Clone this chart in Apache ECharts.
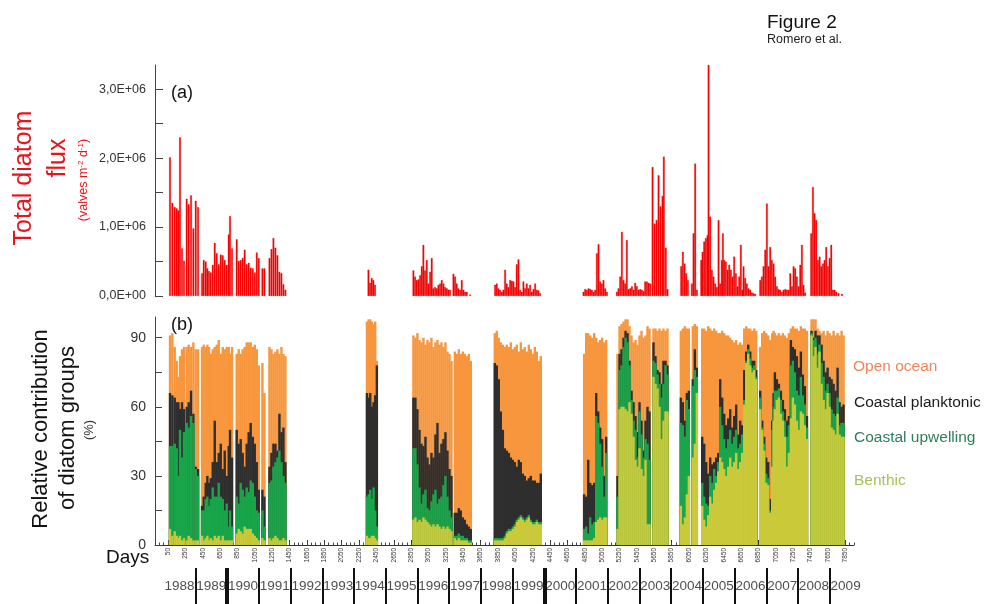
<!DOCTYPE html>
<html><head><meta charset="utf-8">
<script src="https://cdn.jsdelivr.net/npm/echarts@6/dist/echarts.min.js"></script>
<style>html,body{margin:0;padding:0;background:#fff;}#c{width:985px;height:604px;}</style>
</head><body><div id="c"></div>
<script>
// ---- (a) Total diatom flux, days since 1 Jan 1988 and flux in 10^6 valves m-2 d-1
const fluxDays = [73,100,127,150,169,188,211,234,265,288,315,342,369,396,442,461,484,503,522,542,565,588,611,634,657,680,703,726,749,764,787,841,864,887,910,933,956,979,1002,1026,1049,1072,1095,1137,1160,1218,1241,1264,1287,1310,1333,1356,1379,1402,
2358,2377,2396,2415,2434,
2876,2895,2914,2934,2953,2972,2991,3010,3030,3049,3068,3087,3106,3126,3145,3164,3183,3202,3222,3241,3260,3279,3298,3337,3356,3375,3394,3414,3433,3452,3471,3490,3529,
3817,3836,3855,3874,3894,3913,3932,3951,3970,3990,4009,4028,4047,4066,4086,4105,4124,4143,4162,4182,4201,4220,4239,4258,4278,4297,4316,4335,
4835,4854,4873,4893,4912,4931,4950,4969,4989,5008,5027,5046,5065,5085,5104,
5219,5238,5257,5277,5296,5315,5334,5353,5373,5392,5411,5430,5449,5469,5488,5507,5526,5545,5565,5584,5603,
5630,5653,5676,5699,5722,5745,5760,5783,5803,
5960,5979,5999,6018,6037,6083,6102,6121,6141,
6191,6206,6225,6244,6263,6275,6294,6313,6332,6352,6371,6390,6409,6428,6440,6455,6474,6494,6513,6532,6551,6570,6590,6609,6628,6647,6666,6678,6697,6716,6736,6755,6774,6793,6812,
6870,6889,6908,6928,6947,6966,6985,7004,7024,7043,7062,7081,7100,7120,7139,7158,7177,7196,7216,7235,7254,7273,7292,7312,7331,7350,7369,7388,
7457,7477,7496,7515,7534,7554,7573,7592,7611,7630,7650,7669,7688,7707,7726,7746,7772,7811];
const fluxMillions = [2.01,1.35,1.29,1.27,1.24,2.30,0.69,0.51,1.41,1.33,1.46,0.98,1.38,1.29,0.33,0.52,0.50,0.40,0.36,0.34,0.45,0.77,0.62,0.46,0.60,0.59,0.52,0.45,0.89,1.16,0.69,0.82,0.51,0.52,0.55,0.67,0.46,0.48,0.41,0.40,0.34,0.63,0.55,0.40,0.40,0.55,0.68,0.84,0.70,0.59,0.35,0.33,0.17,0.09,
0.38,0.19,0.26,0.23,0.16,
0.37,0.28,0.23,0.24,0.30,0.43,0.74,0.37,0.52,0.18,0.35,0.55,0.11,0.13,0.11,0.16,0.18,0.23,0.18,0.13,0.11,0.09,0.09,0.32,0.28,0.18,0.11,0.09,0.23,0.09,0.06,0.06,0.02,
0.16,0.18,0.11,0.09,0.06,0.09,0.38,0.18,0.13,0.23,0.22,0.21,0.13,0.46,0.53,0.09,0.06,0.21,0.11,0.18,0.11,0.16,0.06,0.10,0.18,0.09,0.08,0.04,
0.06,0.10,0.09,0.11,0.10,0.09,0.06,0.09,0.62,0.75,0.21,0.18,0.23,0.11,0.06,
0.06,0.11,0.28,0.93,0.23,0.18,0.81,0.10,0.11,0.14,0.09,0.19,0.14,0.09,0.10,0.09,0.07,0.21,0.21,0.19,0.18,
1.87,1.05,1.10,1.75,1.30,1.45,2.02,0.70,0.10,
0.43,0.64,0.47,0.33,0.23,0.18,0.91,1.92,0.09,
0.52,0.64,0.79,0.84,0.88,3.35,1.15,0.38,0.28,0.18,0.13,1.10,0.18,0.52,0.91,0.52,0.50,0.38,0.45,0.38,0.28,0.57,0.33,0.14,0.28,0.74,0.09,0.43,0.26,0.18,0.11,0.09,0.05,0.04,0.03,
0.23,0.28,0.43,0.67,1.34,0.43,0.71,0.52,0.47,0.28,0.14,0.10,0.09,0.06,0.09,0.10,0.09,0.09,0.33,0.14,0.43,0.40,0.28,0.14,0.45,0.74,0.16,0.05,
0.91,1.58,1.20,1.10,0.52,0.57,0.43,0.47,0.52,0.71,0.43,0.55,0.74,0.09,0.09,0.06,0.04,0.03];

// ---- (b) Relative contribution (%) of diatom groups
const compDays = [73,100,127,150,169,188,211,234,265,288,315,342,369,396,442,461,484,503,522,542,565,588,611,634,657,680,703,726,749,764,787,841,864,887,910,933,956,979,1002,1026,1049,1072,1095,1137,1160,1218,1241,1264,1287,1310,1333,1356,1379,1402,
2341,2360,2379,2398,2417,2436,2455,
2876,2899,2922,2946,2969,2992,3015,3038,3061,3084,3107,3130,3153,3176,3199,3222,3245,3268,3291,3314,3353,3376,3399,3422,3445,3468,3491,3514,3537,
3813,3836,3859,3882,3906,3929,3952,3975,3998,4021,4044,4067,4090,4113,4136,4159,4182,4205,4228,4251,4274,4297,4320,4343,
4842,4866,4889,4912,4935,4958,4981,5004,5027,5050,5073,5096,
5226,5250,5273,5296,5319,5342,5365,5388,5411,5434,5457,5480,5503,5526,5549,5572,5595,
5641,5664,5687,5710,5733,5756,5779,5802,
5956,5979,6002,6025,6048,6094,6117,6140,
6202,6225,6248,6271,6294,6317,6340,6363,6386,6409,6432,6455,6478,6501,6524,6547,6570,6593,6616,6639,6662,
6686,6709,6732,6755,6778,6801,6824,
6870,6893,6916,6939,6962,6985,7008,7024,
7039,7062,7085,7108,7131,7154,7177,7200,7223,7246,7269,7292,7315,7338,7361,7384,7408,
7461,7484,7507,7530,7553,7577,7600,7623,7646,7669,7692,7715,7738,7761,7784,7807,7830];
const benthic = [7,4,6,4,3,4,2,3,2,4,3,2,2,2,4,2,3,4,2,3,2,4,3,4,2,4,2,2,2,2,2,5,7,6,5,8,7,7,7,5,4,3,2,3,2,3,2,3,4,3,2,2,3,2,
4,3,3,4,4,3,2,
11,12,10,11,10,12,11,10,9,8,9,8,9,8,7,8,7,8,7,6,3,2,3,2,2,2,2,1,1,
2,2,2,2,2,3,5,6,6,7,8,10,11,12,11,10,11,12,10,9,9,10,9,9,
2,2,2,2,2,3,10,11,12,11,12,12,
7,59,60,60,59,58,62,57,47,37,34,42,33,30,37,9,9,
73,70,68,60,46,54,58,58,
17,9,12,22,30,38,44,66,
17,11,8,13,21,18,24,27,32,38,36,33,30,34,38,34,36,40,33,36,40,
61,79,83,78,75,76,72,
59,50,41,27,26,14,34,54,
59,63,64,57,54,47,34,40,55,64,61,54,50,58,57,52,46,
91,82,86,77,84,70,63,59,66,60,51,50,48,57,48,47,47];
const upwelling = [36,39,38,38,27,46,36,46,51,47,53,51,31,28,11,13,17,17,15,17,23,17,18,23,19,16,13,16,6,13,6,16,11,21,19,13,18,16,21,22,17,12,12,12,6,24,26,31,32,35,39,34,27,25,
17,19,21,16,21,12,6,
31,30,25,14,8,10,13,6,6,11,13,16,9,12,14,18,23,13,8,6,1,2,2,2,2,1,1,1,1,
1,1,1,1,1,1,1,1,1,1,1,1,1,1,1,1,1,1,1,1,1,1,1,1,
5,6,3,10,7,7,46,42,32,23,9,28,
14,17,18,26,31,30,16,6,7,13,4,16,15,8,9,35,28,
7,9,6,10,18,16,20,16,
36,43,35,41,29,31,32,7,
10,10,10,4,9,9,9,3,4,22,16,13,12,12,12,10,11,10,9,8,8,
2,1,2,3,2,2,1,
5,1,3,4,3,1,16,6,
8,4,4,6,4,7,13,12,23,16,14,13,15,15,8,9,5,
1,7,4,6,3,9,10,8,4,6,8,7,8,7,4,6,6];
const planktonic = [23,22,20,20,32,9,24,10,7,11,11,4,1,3,2,6,7,9,10,9,11,33,15,13,23,13,26,12,35,35,30,29,26,19,16,13,19,26,25,20,23,21,10,9,13,7,12,10,8,3,16,13,21,9,
45,42,42,40,37,50,70,
22,22,24,25,26,21,23,22,20,21,16,24,35,20,23,20,19,20,18,18,10,10,11,11,8,8,6,6,5,
76,75,69,55,47,38,35,33,31,29,27,23,25,23,19,19,16,16,19,18,18,16,17,21,
15,13,32,15,17,17,10,5,7,12,9,7,
9,7,7,4,3,4,2,4,8,6,11,4,6,3,8,16,21,
8,3,2,5,6,10,2,4,
11,10,7,3,8,3,9,4,
20,23,18,14,8,8,3,8,4,12,12,11,10,9,9,7,9,11,6,10,4,
13,4,2,3,3,2,3,
3,3,3,7,7,5,4,6,
8,5,2,4,5,5,7,4,11,6,10,15,12,11,9,8,5,
1,1,3,8,4,8,7,8,7,7,13,13,11,13,10,7,8];
const openOcean = [25,27,22,18,11,23,23,27,26,25,19,31,51,52,69,66,59,57,59,54,49,32,51,49,39,53,44,56,43,33,48,33,41,37,45,52,44,39,35,39,43,49,54,55,45,52,45,39,40,44,26,37,32,46,
31,34,32,37,34,32,2,
27,26,33,39,44,47,40,51,53,50,48,40,36,47,44,40,39,43,50,50,70,69,69,68,72,72,73,75,73,
13,15,18,30,37,44,46,46,50,48,50,53,47,52,54,56,56,58,55,55,58,57,53,51,
61,71,55,64,64,65,24,30,38,44,58,42,
53,12,11,7,5,6,15,24,26,33,38,29,39,49,37,35,36,
6,12,17,19,23,14,13,16,
29,32,41,28,27,23,11,18,
47,50,57,64,56,58,58,55,52,20,29,35,39,36,31,38,32,28,39,34,35,
18,11,7,10,13,14,17,
19,38,46,54,55,69,38,27,
17,19,22,24,29,32,36,36,5,9,9,12,16,11,20,25,37,
5,8,5,3,2,5,13,16,16,19,19,23,24,15,29,33,30];

// ---- axes
const dayTickLabels = [50,250,450,650,850,1050,1250,1450,1650,1850,2050,2250,2450,2650,2850,3050,3250,3450,3650,3850,4050,4250,4450,4650,4850,5050,5250,5450,5650,5850,6050,6250,6450,6650,6850,7050,7250,7450,7650,7850];
const years = ['1988','1989','1990','1991','1992','1993','1994','1995','1996','1997','1998','1999','2000','2001','2002','2003','2004','2005','2006','2007','2008','2009'];
const yearStartDays = [0,366,731,1096,1461,1827,2192,2557,2922,3288,3653,4018,4383,4749,5114,5479,5844,6210,6575,6940,7305,7671,8036];
const thickYearBoundaries = [731,4383];
const fluxTicks = [0,500000,1000000,1500000,2000000,2500000,3000000];
const fluxLabelValues = [0,1000000,2000000,3000000];
const pctTicks = [0,15,30,45,60,75,90];
const pctLabelValues = [0,30,60,90];

const C = {orange:'#F7963C', dark:'#2E2E2E', green:'#19A64A', benthic:'#C9C93A', red:'#FF0000'};
const FONT = '"Liberation Sans", Arial, sans-serif';
const XMIN = -100, XMAX = 7950;

const chart = echarts.init(document.getElementById('c'), null, {renderer:'canvas'});

const fluxData = fluxDays.map((d,i)=>[d, fluxMillions[i]*1e6]);
const cum = compDays.map((d,i)=>{
  const b = benthic[i], u = b + upwelling[i], p = u + planktonic[i], o = p + openOcean[i];
  return {d, b, u, p, o};
});
const compSeries = (name, key, color) => ({
  name, type:'bar', xAxisIndex:1, yAxisIndex:1, barWidth:2.4, barGap:'-100%',
  itemStyle:{color}, silent:true,
  data: cum.map(r=>[r.d, r[key]])
});

const fmtFlux = v => v === 0 ? '0,0E+00' : (v/1e6).toFixed(1).replace('.', ',') + 'E+06';

const graphicText = (text, x, y, font, fill) => ({
  type:'text', x, y, silent:true,
  style:{text, font, fill, align:'left', verticalAlign:'middle'}
});
const vText = (text, x, y, font, fill, rich) => ({
  type:'text', x, y, rotation:Math.PI/2, silent:true,
  style:{text, font, fill, align:'center', verticalAlign:'middle', rich}
});

const option = {
  animation:false,
  backgroundColor:'#fff',
  grid:[
    {left:155, right:131, top:65, height:231},
    {left:155, right:131, top:317, height:228},
    {left:155, right:131, top:568, height:36}
  ],
  xAxis:[
    {gridIndex:0, type:'value', min:XMIN, max:XMAX, show:false},
    {gridIndex:1, type:'value', position:'bottom', min:XMIN, max:XMAX,
      axisLine:{onZero:false, lineStyle:{color:'#333', width:1}},
      axisTick:{inside:true, length:5, customValues:dayTickLabels, lineStyle:{color:'#333'}},
      axisLabel:{customValues:dayTickLabels, formatter:v=>String(v), rotate:90, fontSize:6.5, color:'#333', margin:3, fontFamily:FONT},
      splitLine:{show:false}},
    {gridIndex:1, type:'value', position:'bottom', min:XMIN, max:XMAX, interval:50,
      axisLine:{show:false, onZero:false}, axisTick:{inside:true, length:2.5, lineStyle:{color:'#444'}},
      axisLabel:{show:false}, splitLine:{show:false}},
    {gridIndex:2, type:'value', min:XMIN, max:XMAX, show:false}
  ],
  yAxis:[
    {gridIndex:0, type:'value', min:0, max:3350000,
      axisLine:{show:true, onZero:false, lineStyle:{color:'#444'}},
      axisTick:{show:true, inside:true, length:8, customValues:fluxTicks, lineStyle:{color:'#444'}},
      axisLabel:{customValues:fluxLabelValues, formatter:fmtFlux, fontSize:12.5, color:'#333', margin:9, fontFamily:FONT},
      splitLine:{show:false}},
    {gridIndex:1, type:'value', min:0, max:99,
      axisLine:{show:true, onZero:false, lineStyle:{color:'#444'}},
      axisTick:{show:true, inside:true, length:7, customValues:pctTicks, lineStyle:{color:'#444'}},
      axisLabel:{customValues:pctLabelValues, fontSize:14, color:'#333', margin:9, fontFamily:FONT},
      splitLine:{show:false}},
    {gridIndex:2, type:'value', min:0, max:1, show:false}
  ],
  series:[
    {name:'Total diatom flux', type:'bar', xAxisIndex:0, yAxisIndex:0, barWidth:1.7, silent:true,
      itemStyle:{color:C.red, borderColor:'#D00000', borderWidth:0.3}, data:fluxData},
    compSeries('Open ocean','o',C.orange),
    compSeries('Coastal planktonic','p',C.dark),
    compSeries('Coastal upwelling','u',C.green),
    compSeries('Benthic','b',C.benthic),
    {name:'years', type:'scatter', xAxisIndex:3, yAxisIndex:2, symbolSize:1, silent:true,
      itemStyle:{color:'rgba(0,0,0,0)'},
      label:{show:true, position:'inside', formatter:'{b}', fontSize:13.5, color:'#222', fontFamily:FONT},
      data: years.map((y,i)=>({name:y, value:[(yearStartDays[i]+yearStartDays[i+1])/2, 0.5]})),
      markLine:{silent:true, symbol:'none', label:{show:false}, animation:false,
        data: yearStartDays.slice(1, years.length).map(d=>({xAxis:d,
          lineStyle:{color:'#111', type:'solid', width: thickYearBoundaries.includes(d) ? 4 : 2}}))}
    }
  ],
  graphic:[
    graphicText('Figure 2', 767, 23, '19px '+FONT, '#111'),
    graphicText('Romero et al.', 767, 39.5, '12.5px '+FONT, '#222'),
    graphicText('(a)', 171, 93, '18px '+FONT, '#111'),
    graphicText('(b)', 171, 325, '18px '+FONT, '#111'),
    vText('Total diatom', 24, 178, '25px '+FONT, '#E8141C'),
    vText('flux', 58, 158, '25px '+FONT, '#E8141C'),
    vText('(valves m{s|-2} d{s|-1})', 84, 180, '12.5px '+FONT, '#E8141C',
      {s:{fontSize:8, fontFamily:FONT, fill:'#E8141C', verticalAlign:'top', lineHeight:14}}),
    vText('Relative contribution', 41, 429, '22px '+FONT, '#111'),
    vText('of diatom groups', 68, 428, '22px '+FONT, '#111'),
    vText('(%)', 89, 430, '13px '+FONT, '#333'),
    graphicText('Days', 106, 558, '19px '+FONT, '#111'),
    graphicText('Open ocean', 853, 367, '15.5px '+FONT, '#F0845A'),
    graphicText('Coastal planktonic', 854, 403, '15.5px '+FONT, '#1A1A1A'),
    graphicText('Coastal upwelling', 854, 438, '15.5px '+FONT, '#2E7D5B'),
    graphicText('Benthic', 854, 481, '15.5px '+FONT, '#A6C25A')
  ]
};
chart.setOption(option);
</script>
</body></html>
